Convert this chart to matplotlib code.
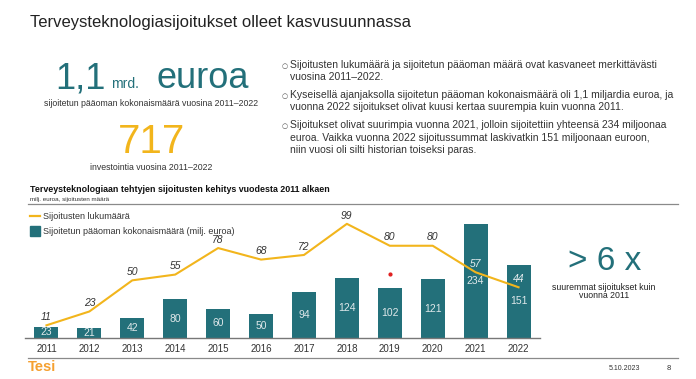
import matplotlib.pyplot as plt
from matplotlib.lines import Line2D
from matplotlib.patches import Rectangle

plt.rcParams['font.family'] = ['Liberation Sans', 'DejaVu Sans']

# data
years = ['2011', '2012', '2013', '2014', '2015', '2016',
         '2017', '2018', '2019', '2020', '2021', '2022']
capital = [23, 21, 42, 80, 60, 50, 94, 124, 102, 121, 234, 151]
deals = [11, 23, 50, 55, 78, 68, 72, 99, 80, 80, 57, 44]
stray_dot = (8, 131)  # small red dot seen in the source slide

TEAL = '#23707a'
GOLD = '#f2b51c'
GRAY = '#333333'
W, H = 696, 379


def px(x, y):
    # pixel position (from top-left) to figure fraction
    return x / W, 1 - y / H


fig = plt.figure(figsize=(W / 100, H / 100), dpi=100)

# header texts
fig.text(*px(30, 22), 'Terveysteknologiasijoitukset olleet kasvusuunnassa',
         fontsize=12, color='#222222', va='center')
fig.text(*px(55, 79), '1,1', fontsize=26, color=TEAL, va='center')
fig.text(*px(111, 84), 'mrd.', fontsize=10, color=TEAL, va='center')
fig.text(*px(157, 79), 'euroa', fontsize=26, color=TEAL, va='center')
fig.text(*px(151, 103), 'sijoitetun pääoman kokonaismäärä vuosina 2011–2022',
         fontsize=6.3, color=GRAY, ha='center', va='center')
fig.text(*px(151, 142), '717', fontsize=29, color=GOLD, ha='center', va='center')
fig.text(*px(151, 168), 'investointia vuosina 2011–2022',
         fontsize=6.3, color=GRAY, ha='center', va='center')

bullets = [
    (65, ['Sijoitusten lukumäärä ja sijoitetun pääoman määrä ovat kasvaneet merkittävästi',
          'vuosina 2011–2022.']),
    (95, ['Kyseisellä ajanjaksolla sijoitetun pääoman kokonaismäärä oli 1,1 miljardia euroa, ja',
          'vuonna 2022 sijoitukset olivat kuusi kertaa suurempia kuin vuonna 2011.']),
    (125, ['Sijoitukset olivat suurimpia vuonna 2021, jolloin sijoitettiin yhteensä 234 miljoonaa',
           'euroa. Vaikka vuonna 2022 sijoitussummat laskivatkin 151 miljoonaan euroon,',
           'niin vuosi oli silti historian toiseksi paras.']),
]
for y0, lines in bullets:
    fig.text(*px(282, y0 + 1), '○', fontsize=5, color='#555555', va='center',
             family='DejaVu Sans')
    for k, line in enumerate(lines):
        fig.text(*px(290, y0 + 12.5 * k), line, fontsize=7.5, color=GRAY, va='center')

# chart header
fig.text(*px(30, 190), 'Terveysteknologiaan tehtyjen sijoitusten kehitys vuodesta 2011 alkaen',
         fontsize=6.4, fontweight='bold', color='#111111', va='center')
fig.text(*px(30, 199), 'milj. euroa, sijoitusten määrä', fontsize=4.5, color=GRAY, va='center')
fig.add_artist(Line2D([28 / W, 678 / W], [1 - 204 / H] * 2, color='#8a8a8a', lw=0.9))
fig.add_artist(Line2D([28 / W, 678 / W], [1 - 358 / H] * 2, color='#8a8a8a', lw=0.9))

# legend
fig.add_artist(Line2D([30 / W, 40 / W], [1 - 216 / H] * 2, color=GOLD, lw=1.6))
fig.text(*px(43, 216), 'Sijoitusten lukumäärä', fontsize=6.5, color=GRAY, va='center')
fig.add_artist(Rectangle(px(30, 236), 10 / W, 10 / H, color=TEAL))
fig.text(*px(43, 231), 'Sijoitetun pääoman kokonaismäärä (milj. euroa)',
         fontsize=6.5, color=GRAY, va='center')

# chart
ax = fig.add_axes([25 / W, 41 / H, 515 / W, 128 / H])
x = list(range(len(years)))
ax.bar(x, capital, width=0.56, color=TEAL)
for i, v in enumerate(capital):
    ax.text(i, v / 2, str(v), ha='center', va='center', fontsize=7.5, color='#dfe8ea')
ax.scatter([stray_dot[0]], [stray_dot[1]], s=4, color='#e02020', zorder=5)
ax.set_xlim(-0.5, 11.5)
ax.set_ylim(0, 263)
ax.set_xticks(x)
ax.set_xticklabels(years, fontsize=7, color=GRAY)
ax.tick_params(axis='x', length=0, pad=4)
ax.set_yticks([])
for s in ['top', 'left', 'right']:
    ax.spines[s].set_visible(False)
ax.spines['bottom'].set_color('#777777')
ax.spines['bottom'].set_linewidth(1.0)

ax2 = ax.twinx()
ax2.plot(x, deals, color=GOLD, lw=1.5)
ax2.set_ylim(0, 111)
ax2.set_yticks([])
for s in ax2.spines.values():
    s.set_visible(False)
for i, v in enumerate(deals):
    c = '#e8eef0' if i >= 10 else '#333333'
    ax2.annotate(str(v), (i, v), xytext=(0, 6), textcoords='offset points',
                 ha='center', va='center', fontsize=7.5, style='italic', color=c)

# right callout
fig.text(*px(605, 262), '> 6 x', fontsize=24, color=TEAL, ha='center', va='center')
fig.text(*px(604, 287), 'suuremmat sijoitukset kuin', fontsize=6.3, color='#222222',
         ha='center', va='center')
fig.text(*px(604, 296), 'vuonna 2011', fontsize=6.3, color='#222222',
         ha='center', va='center')

# footer
fig.text(*px(28, 367), 'Tesi', fontsize=10.5, fontweight='bold', color='#f5a030', va='center')
fig.text(*px(624, 369), '5.10.2023', fontsize=5, color=GRAY, ha='center', va='center')
fig.text(*px(669, 369), '8', fontsize=5.5, color=GRAY, ha='center', va='center')

fig.savefig('out.png', dpi=100)
